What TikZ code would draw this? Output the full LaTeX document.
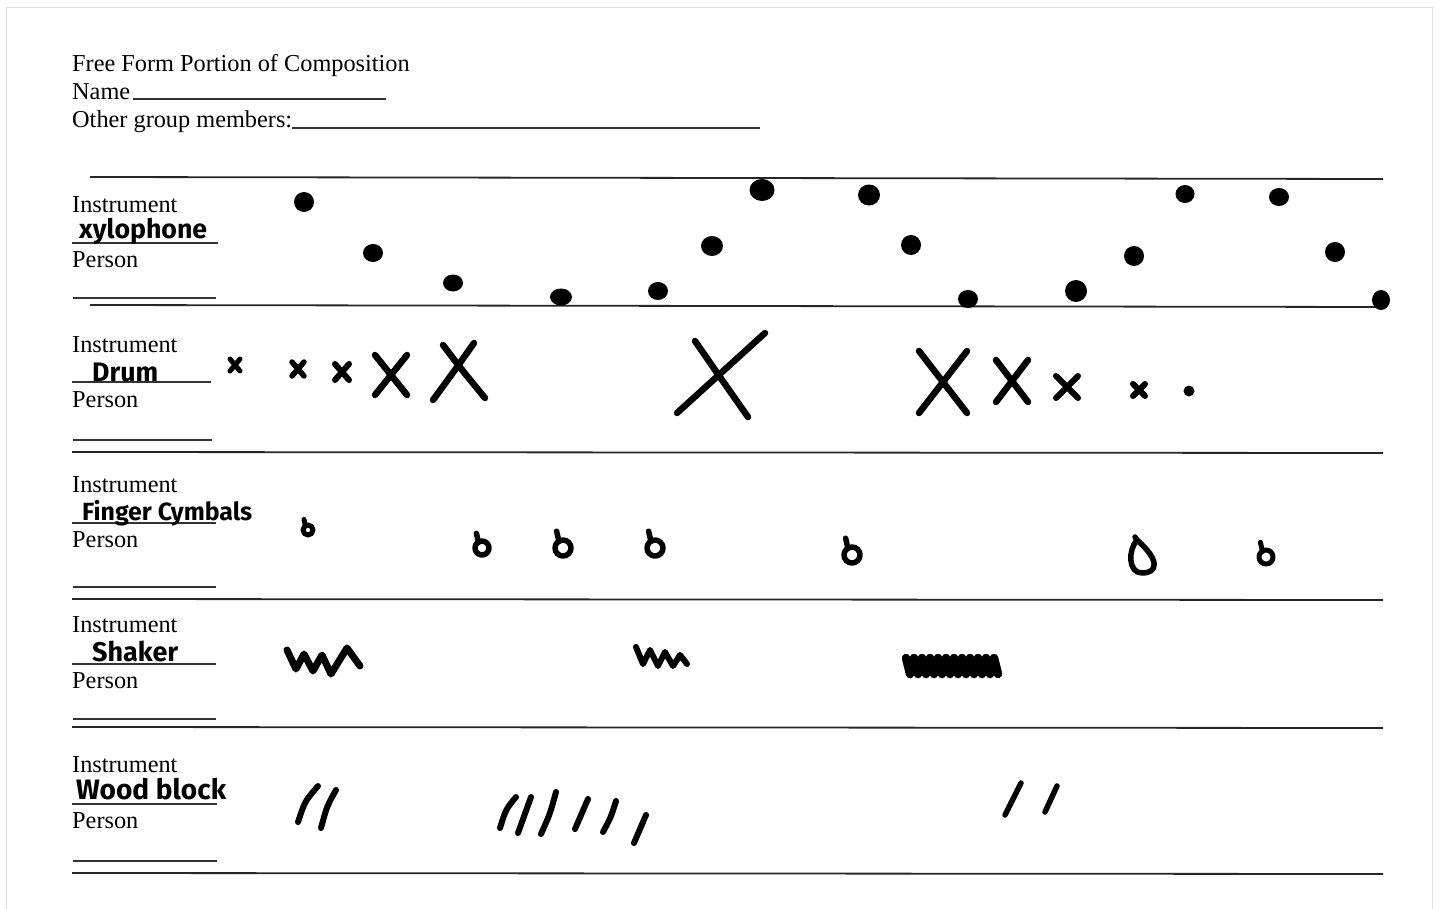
\documentclass[tikz,border=0pt]{standalone}
\usepackage{fontspec}
\setmainfont{Liberation Serif}
\newfontfamily\handfont{Fira Sans}
\newcommand\myx[5]{\draw[ink,line width=#5] ({#1-#3/2},{#2-#4/2}) -- ({#1+#3/2},{#2+#4/2}) ({#1+#3/2},{#2-#4/2}) -- ({#1-#3/2},{#2+#4/2});}
\newcommand\mycym[4]{\draw[ink,line width=#4] (#1,#2) circle[radius=#3pt]; \draw[ink,line width=#4] ({#1-0.5*#3},{#2-0.8*#3}) -- ({#1-0.8*#3},{#2-2.1*#3});}
\begin{document}
\begin{tikzpicture}[x=1pt,y=-1pt,
  lbl/.style={anchor=base west,inner sep=0pt,font=\fontsize{24.3}{28}\selectfont},
  hand/.style={anchor=base west,inner sep=0pt,font=\handfont\bfseries\fontsize{26}{26}\selectfont},
  rule/.style={line width=1.8pt,black!85},
  blank/.style={line width=1.1pt,black!80},
  ink/.style={line cap=round,line join=round,black},
  dot/.style={fill=black}]
\useasboundingbox (0,0) rectangle (1439,909);
\fill[white] (0,0) rectangle (1439,909);
\draw[line width=1pt,color={rgb,255:red,214;green,226;blue,220}] (6.5,7.5) -- (1432,7.5) -- (1432,915) (6.5,7.5) -- (6.5,915);

% header
\node[lbl] (title) at (72,72) {Free Form Portion of Composition};
\node[lbl] (name) at (72,100) {Name};
\node[lbl] (other) at (72,128) {Other group members:};
\draw[blank] (133,99) -- (386,99);
\draw[blank] (292,128) -- (760,128);

% table rules
\draw[rule] (90,177) -- (1383,179);
\draw[rule] (90,305) -- (1383,307);
\draw[rule] (72,452) -- (1383,453);
\draw[rule] (72,599) -- (1383,600);
\draw[rule] (72,727) -- (1383,728);
\draw[rule] (72,873) -- (1383,874);

% row labels
\foreach \b/\i/\p/\il/\pl/\pu in {213/243/268/218/216/298, 352/382/407/211/212/440, 492/523/547/216/216/587, 632/664/688/216/216/719, 772/804/828/217/217/861}{
  \node[lbl] at (72,\b) {Instrument};
  \node[lbl] at (72,\p) {Person};
  \draw[blank] (72,\i) -- (\il,\i);
  \draw[blank] (73,\pu) -- (\pl,\pu);
}

% handwritten instrument names
\node[hand] (xyl) at (79,239) {\resizebox{128pt}{!}{xylophone}};
\node[hand] (drum) at (92,381) {\resizebox{66pt}{!}{Drum}};
\node[hand] (fing) at (82,520) {\resizebox{170pt}{!}{Finger Cymbals}};
\node[hand] (shak) at (92,661) {\resizebox{86pt}{!}{Shaker}};
\node[hand] (wood) at (76,799) {\resizebox{150pt}{!}{Wood block}};

% row 1: xylophone dots
\foreach \x/\y/\rx/\ry in {304/202/10/10, 373/253/10/9, 453/283/10/8.5, 561/297/11/8.5, 658/291/10/9, 712/246/11/10, 762/190/12.5/11, 869/195/11/10.5, 911/245/10/10, 968/299/10/9, 1076/291/11/11, 1134/256/10/10, 1185/194/9.5/9, 1279/197/10/9, 1335/252/10/10, 1381/300/9/10}{
  \fill[dot] (\x,\y) ellipse[x radius=\rx pt,y radius=\ry pt];
}

% row 2: drum crosses
\myx{235}{365}{10}{12}{5pt}
\myx{298}{369}{12}{14}{5.5pt}
\myx{342}{372}{14}{16}{6pt}
\myx{391}{375}{32}{40}{6.5pt}
\draw[ink,line width=6.5pt] (443,345) .. controls (462,370) .. (485,398);
\draw[ink,line width=6.5pt] (474,343) .. controls (455,370) .. (433,400);
\draw[ink,line width=6.5pt] (677,413) -- (765,333);
\draw[ink,line width=6.5pt] (695,341) .. controls (722,380) .. (748,417);
\myx{943}{382}{48}{62}{6.5pt}
\myx{1012}{381}{32}{42}{6.5pt}
\myx{1067}{387}{22}{22}{6pt}
\myx{1139}{390}{12}{12}{6pt}
\fill[dot] (1189,391) circle[radius=5.5pt];

% row 3: finger cymbals
\mycym{308}{530}{5}{5pt}
\mycym{482}{548}{7}{5.5pt}
\mycym{563}{548}{8}{5.5pt}
\mycym{655}{548}{8}{5.5pt}
\mycym{852}{555}{8}{5.5pt}
\draw[ink,line width=5.5pt] (1137,540) .. controls (1160,560) and (1158,573) .. (1142,573) .. controls (1128,573) and (1128,550) .. (1137,540) -- (1135,537);
\mycym{1266}{557}{7}{5pt}

% row 4: shaker zigzags
\draw[ink,line width=7pt] (287,650) -- (296,669) -- (304,654) -- (313,671) -- (322,655) -- (331,674) -- (347,648) -- (360,666);
\draw[ink,line width=6pt] (636,647) -- (643,664) -- (650,650) -- (658,666) -- (665,652) -- (673,666) -- (680,655) -- (687,664);
\draw[ink,line width=8.5pt] plot[domain=0:23,samples=24] ({906+\x*4},{666-8*cos(180*\x)});

% row 5: wood block slashes
\draw[ink,line width=6pt] (298,822) .. controls (305,801) .. (318,786);
\draw[ink,line width=6pt] (321,828) .. controls (327,806) .. (336,790);
\draw[ink,line width=6pt] (500,828) .. controls (506,809) .. (516,797);
\draw[ink,line width=6pt] (518,833) -- (531,797);
\draw[ink,line width=6pt] (541,834) .. controls (550,814) .. (556,792);
\draw[ink,line width=6pt] (575,829) -- (588,799);
\draw[ink,line width=6pt] (603,832) .. controls (611,817) .. (616,801);
\draw[ink,line width=6pt] (634,843) -- (646,815);
\draw[ink,line width=5.5pt] (1005,815) -- (1021,783);
\draw[ink,line width=5.5pt] (1045,812) -- (1057,786);
\end{tikzpicture}
\end{document}
